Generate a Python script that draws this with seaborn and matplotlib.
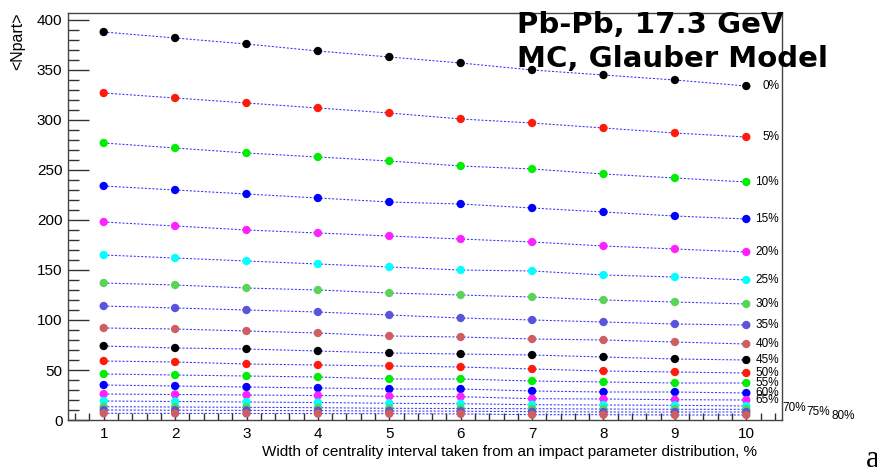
import matplotlib
matplotlib.use("Agg")
import matplotlib.pyplot as plt
from matplotlib.ticker import MultipleLocator
import numpy as np
import pandas as pd
import seaborn as sns

# ---------------- data ----------------
widths = [1, 2, 3, 4, 5, 6, 7, 8, 9, 10]
classes = ["0%", "5%", "10%", "15%", "20%", "25%", "30%", "35%", "40%",
           "45%", "50%", "55%", "60%", "65%", "70%", "75%", "80%", "85%"]
c00 = [388, 382, 376, 369, 363, 357, 350, 345, 340, 334]
c05 = [327, 322, 317, 312, 307, 301, 297, 292, 287, 283]
c10 = [277, 272, 267, 263, 259, 254, 251, 246, 242, 238]
c15 = [234, 230, 226, 222, 218, 216, 212, 208, 204, 201]
c20 = [198, 194, 190, 187, 184, 181, 178, 174, 171, 168]
c25 = [165, 162, 159, 156, 153, 150, 149, 145, 143, 140]
c30 = [137, 135, 132, 130, 127, 125, 123, 120, 118, 116]
c35 = [114, 112, 110, 108, 105, 102, 100, 98, 96, 95]
c40 = [92, 91, 89, 87, 84, 83, 81, 80, 78, 76]
c45 = [74, 72, 71, 69, 67, 66, 65, 63, 61, 60]
c50 = [59, 58, 56, 55, 54, 53, 51, 49, 48, 47]
c55 = [46, 45, 44, 43, 41, 41, 39, 38, 37, 37]
c60 = [35, 34, 33, 32, 31, 31, 29, 28, 28, 27]
c65 = [26, 25.5, 25, 24.5, 23.7, 23.3, 21.3, 21, 20.3, 20]
c70 = [19, 18.5, 18, 17.5, 16.7, 16.3, 15.3, 15, 14.7, 14]
c75 = [13.3, 13, 12.7, 12.3, 11.7, 11.5, 11.3, 11, 10.7, 10.7]
c80 = [10, 9.8, 9.6, 9.3, 9, 8.8, 8.3, 8, 8, 8]
c85 = [6.7, 6.6, 6.5, 6.4, 6.3, 6.1, 5.3, 5.3, 5, 5]
series = [c00, c05, c10, c15, c20, c25, c30, c35, c40,
          c45, c50, c55, c60, c65, c70, c75, c80, c85]
labelled = classes[:17]

root_colors = ["#000000", "#ff1a0a", "#00ee00", "#0000ff", "#ff22ff",
               "#00ffff", "#59d454", "#5954d9", "#cf5e61"]
palette = [root_colors[i % len(root_colors)] for i in range(len(classes))]

df = pd.DataFrame({
    "width": np.tile(widths, len(classes)),
    "npart": np.concatenate([np.asarray(s, float) for s in series]),
    "cls": np.repeat(classes, len(widths)),
})

# ---------------- figure ----------------
plt.rcParams["font.family"] = ["Liberation Sans", "DejaVu Sans"]
fig = plt.figure(figsize=(8.78, 4.72), dpi=100)
ax = fig.add_axes([68 / 878, 1 - 420 / 472, 714 / 878, 407 / 472])

sns.lineplot(data=df, x="width", y="npart", units="cls", estimator=None,
             color="#3333ff", linestyle=(0, (2.0, 1.6)), linewidth=0.75,
             ax=ax, legend=False, zorder=2)
sns.scatterplot(data=df, x="width", y="npart", hue="cls", hue_order=classes,
                palette=palette, s=36, linewidth=0, ax=ax, legend=False,
                zorder=3)

ax.set_xlim(0.5, 10.5)
ax.set_ylim(0, 407)

# ticks ROOT style
ax.xaxis.set_major_locator(MultipleLocator(1))
ax.xaxis.set_minor_locator(MultipleLocator(0.2))
ax.yaxis.set_major_locator(MultipleLocator(50))
ax.yaxis.set_minor_locator(MultipleLocator(10))
ax.tick_params(axis="x", which="major", direction="in", length=9, width=1,
               color="#333333", labelsize=11, pad=5, top=False)
ax.tick_params(axis="x", which="minor", direction="in", length=5, width=1,
               color="#333333", top=False)
ax.tick_params(axis="y", which="major", direction="in", length=15, width=1,
               color="#333333", labelsize=11, pad=4, right=False)
ax.tick_params(axis="y", which="minor", direction="in", length=8, width=1,
               color="#333333", right=False)
for sp in ax.spines.values():
    sp.set_color("#444444")
    sp.set_linewidth(1)

ax.set_xlabel("Width of centrality interval taken from an impact parameter distribution, %",
              fontsize=11, loc="right")
ax.xaxis.set_label_coords((757 - 68) / 714, -0.062)
ax.set_ylabel("<Npart>", fontsize=11.5, loc="top")
ax.yaxis.set_label_coords(-0.060, 1.0)

# class labels at the end of each curve
for i, (name, s) in enumerate(zip(labelled, series)):
    if i < 14:
        ax.text(10.46, s[-1], name, fontsize=8.5, ha="right", va="center",
                zorder=4)
outside_x = [10.50, 10.84, 11.19]
for k, idx in enumerate([14, 15, 16]):
    ax.text(outside_x[k], series[idx][-1] - 2 - k, labelled[idx], fontsize=8.5,
            ha="left", va="center", clip_on=False)

# title block
fig.text(517 / 878, 1 - 33 / 472, "Pb-Pb, 17.3 GeV", fontsize=21,
         fontweight="bold", family="DejaVu Sans", va="baseline", ha="left")
fig.text(517 / 878, 1 - 67 / 472, "MC, Glauber Model", fontsize=21,
         fontweight="bold", family="DejaVu Sans", va="baseline", ha="left")
fig.text(866 / 878, 1 - 467 / 472, "a", fontsize=22,
         family="Liberation Serif", va="baseline", ha="left")

fig.savefig("out.png", dpi=100)
